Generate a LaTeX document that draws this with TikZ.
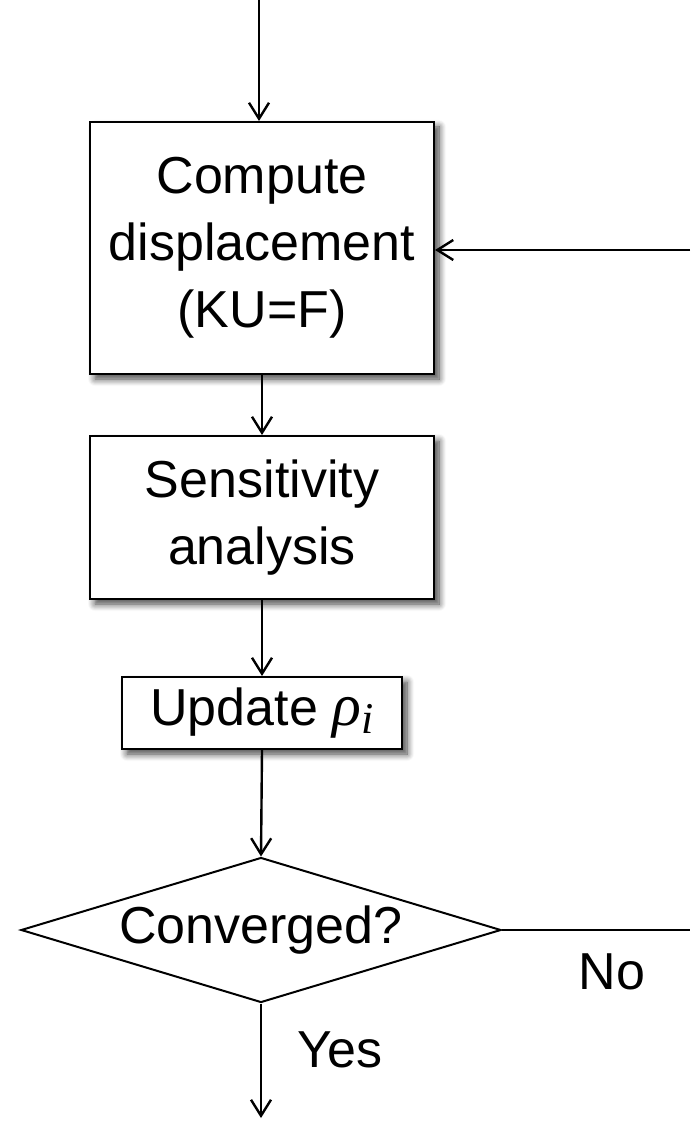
\documentclass[tikz,border=0pt]{standalone}
\usepackage{fontspec}
\setmainfont{Liberation Sans}
\newfontfamily\greekit{Liberation Serif}
\usetikzlibrary{arrows.meta,shapes.geometric,shadows.blur}
\newcommand{\rhoi}{{\greekit\itshape\fontsize{30}{30}\selectfont ρ\raisebox{-0.3ex}{\fontsize{22}{22}\selectfont i}}}
\begin{document}
\begin{tikzpicture}[x=0.5pt,y=-0.5pt,
  every node/.style={font=\fontsize{26}{33.5}\selectfont},
  box/.style={draw=black, line width=1pt, fill=white, rectangle, align=center, inner sep=0pt,
    blur shadow={shadow xshift=2.5pt, shadow yshift=-2.5pt, shadow blur steps=8, shadow blur radius=3.5pt, shadow opacity=75}},
  dia/.style={draw=black, line width=1pt, fill=white, diamond, inner sep=0pt, aspect=3.3,
    minimum width=240pt, minimum height=72.5pt},
  conn/.style={line width=1.2pt, -{Straight Barb[length=8pt,width=10pt,line width=1.2pt]}},
  plain/.style={line width=1.2pt},
  lbl/.style={inner sep=0pt}]
\useasboundingbox (0,0) rectangle (690,1122);
\node[box, minimum width=172pt, minimum height=126pt] (b1) at (262,248) {Compute\\displacement\\(KU=F)};
\node[box, minimum width=172pt, minimum height=81.5pt] (b2) at (262,517.5) {Sensitivity\\analysis};
\node[box, minimum width=140pt, minimum height=36pt] (b3) at (262,713) {Update \rhoi};
\node[dia] (d) at (261,930) {Converged?};
\coordinate (top) at (259,0);
\coordinate (bot) at (261,1118);
\coordinate (r1) at (690,930);
\coordinate (r2) at (690,250);
\draw[conn] (top) -- (top |- b1.north);
\draw[conn] (b1.south) -- (b2.north);
\draw[conn] (b2.south) -- (b3.north);
\draw[conn] (b3.south) -- (d.north);
\draw[conn] (d.south) -- (bot);
\draw[plain] (d.east) -- (r1);
\draw[conn] (r2) -- (b1.east |- r2);
\node[lbl] (no) at (612,972) {No};
\node[lbl] (yes) at (340,1050) {Yes};
\end{tikzpicture}
\end{document}
